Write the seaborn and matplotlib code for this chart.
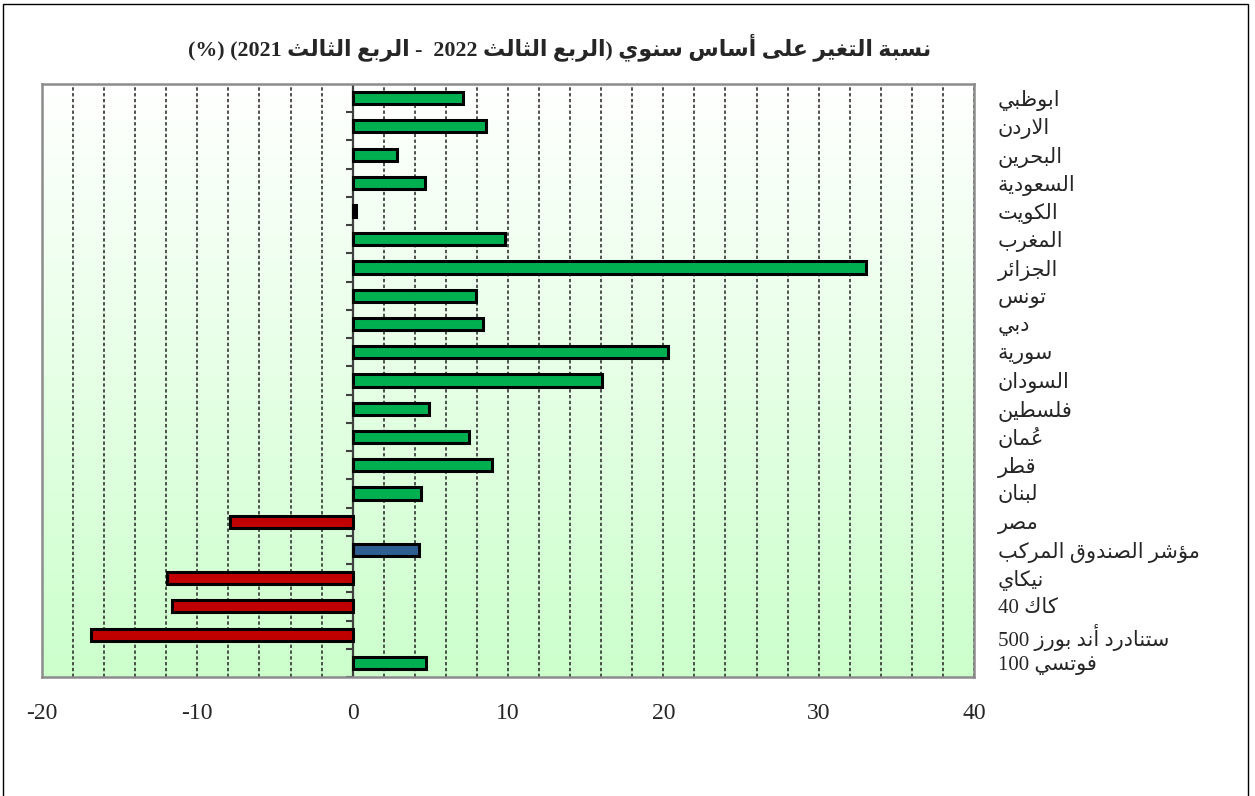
import numpy as np
import pandas as pd
import matplotlib
matplotlib.use("Agg")
import matplotlib.pyplot as plt
import matplotlib.patches as patches
from matplotlib.ticker import MultipleLocator
import seaborn as sns


# DATA
markets = ["ابوظبي", "الاردن", "البحرين", "السعودية", "الكويت", "المغرب",
           "الجزائر", "تونس", "دبي", "سورية", "السودان", "فلسطين", "عُمان",
           "قطر", "لبنان", "مصر", "مؤشر الصندوق المركب", "نيكاي", "كاك 40",
           "ستنادرد أند بورز 500", "فوتسي 100"]
change_pct = [7.1, 8.6, 2.85, 4.65, 0.2, 9.8, 33.05, 7.95, 8.4, 20.3, 16.05,
              4.9, 7.5, 8.95, 4.4, -7.9, 4.3, -11.95, -11.6, -16.85, 4.7]
composite = "مؤشر الصندوق المركب"
title = "نسبة التغير على أساس سنوي (الربع الثالث 2022  - الربع الثالث 2021) (%)"
x_ticks = [-20, -10, 0, 10, 20, 30, 40]


# matplotlib has no Arabic shaping / bidi, so do a small one by hand:
# pick the presentation form of each letter, then lay the text out right to left.
_forms = [("ء", 0xFE80, 1), ("آ", 0xFE81, 2), ("أ", 0xFE83, 2), ("ؤ", 0xFE85, 2),
          ("إ", 0xFE87, 2), ("ئ", 0xFE89, 4), ("ا", 0xFE8D, 2), ("ب", 0xFE8F, 4),
          ("ة", 0xFE93, 2), ("ت", 0xFE95, 4), ("ث", 0xFE99, 4), ("ج", 0xFE9D, 4),
          ("ح", 0xFEA1, 4), ("خ", 0xFEA5, 4), ("د", 0xFEA9, 2), ("ذ", 0xFEAB, 2),
          ("ر", 0xFEAD, 2), ("ز", 0xFEAF, 2), ("س", 0xFEB1, 4), ("ش", 0xFEB5, 4),
          ("ص", 0xFEB9, 4), ("ض", 0xFEBD, 4), ("ط", 0xFEC1, 4), ("ظ", 0xFEC5, 4),
          ("ع", 0xFEC9, 4), ("غ", 0xFECD, 4), ("ف", 0xFED1, 4), ("ق", 0xFED5, 4),
          ("ك", 0xFED9, 4), ("ل", 0xFEDD, 4), ("م", 0xFEE1, 4), ("ن", 0xFEE5, 4),
          ("ه", 0xFEE9, 4), ("و", 0xFEED, 2), ("ى", 0xFEEF, 2), ("ي", 0xFEF1, 4)]
FORMS = {c: (start, n) for c, start, n in _forms}
LAM_ALEF = {"آ": 0xFEF5, "أ": 0xFEF7, "إ": 0xFEF9, "ا": 0xFEFB}


def n_forms(c):
    if c.startswith("LA"):
        return 2
    return FORMS.get(c, (0, 0))[1]


def shape(s):
    clusters = []
    for c in s:
        if "\u064B" <= c <= "\u0652" and clusters:
            clusters[-1][1] += c
        else:
            clusters.append([c, ""])
    merged = []
    i = 0
    while i < len(clusters):
        c, m = clusters[i]
        if c == "ل" and i + 1 < len(clusters) and clusters[i + 1][0] in LAM_ALEF:
            merged.append(["LA" + clusters[i + 1][0], m + clusters[i + 1][1]])
            i += 2
        else:
            merged.append([c, m])
            i += 1
    out = []
    for k, (c, m) in enumerate(merged):
        prev = merged[k - 1][0] if k > 0 else None
        nxt = merged[k + 1][0] if k + 1 < len(merged) else None
        jp = prev is not None and n_forms(prev) == 4 and n_forms(c) >= 2
        jn = nxt is not None and n_forms(c) == 4 and n_forms(nxt) >= 2
        if c.startswith("LA"):
            g = chr(LAM_ALEF[c[2:]] + (1 if jp else 0))
        elif c in FORMS:
            start, n = FORMS[c]
            form = 3 if (jp and jn) else 2 if jn else 1 if jp else 0
            if form >= n:
                form = 1 if jp else 0
            g = chr(start + form)
        else:
            g = c
        # mark first so it is drawn over the letter that follows it on screen
        out.append(m + g)
    return out


def ar(s):
    segs = []
    for g in shape(s):
        if g.isdigit() and segs and segs[-1].isdigit():
            segs[-1] += g
        else:
            segs.append(g)
    mirror = {"(": ")", ")": "("}
    return "".join(mirror.get(g, g) for g in reversed(segs))


df = pd.DataFrame({"market": markets, "change": change_pct})
colors = ["#2E5F91" if m == composite else ("#C00000" if v < 0 else "#00B050")
          for m, v in zip(markets, change_pct)]

sns.set_style("white")
plt.rcParams["font.family"] = ["Liberation Serif", "DejaVu Sans"]

fig = plt.figure(figsize=(12.55, 7.96), dpi=100)
ax = fig.add_axes([42 / 1255, 1 - 677 / 796, 932 / 1255, 593 / 796])

# white -> light green background
grad = np.linspace(1, 0, 256).reshape(-1, 1)
cmap = matplotlib.colors.LinearSegmentedColormap.from_list("bg", ["#CCFFCC", "#FFFFFF"])
ax.imshow(grad, extent=(0, 1, 0, 1), transform=ax.transAxes, aspect="auto",
          cmap=cmap, zorder=0)

sns.barplot(data=df, x="change", y="market", hue="market", palette=colors,
            legend=False, orient="h", width=0.43, edgecolor="black",
            linewidth=2.2, saturation=1, ax=ax, zorder=3)

ax.set_xlim(-20, 40)
ax.set_ylim(len(markets) - 0.5, -0.5)

# dashed vertical grid every 2 units
ax.xaxis.set_major_locator(matplotlib.ticker.FixedLocator(x_ticks))
ax.xaxis.set_minor_locator(MultipleLocator(2))
ax.grid(True, axis="x", which="both", color="#222222", linestyle=(0, (2.2, 1.6)),
        linewidth=1.1, zorder=1)

# zero axis with small ticks at category boundaries
ax.axvline(0, color="#404040", lw=1.6, zorder=2)
ax.hlines(np.arange(len(markets) + 1) - 0.5, -0.45, 0, color="#404040", lw=1.5, zorder=2)

ax.set_xticks(x_ticks)
ax.set_xticklabels([str(t) for t in x_ticks], fontsize=17, family="Liberation Serif")
ax.tick_params(axis="x", which="both", length=0, pad=19)

ax.yaxis.tick_right()
ax.set_yticks(range(len(markets)))
ax.set_yticklabels([ar(m) for m in markets], fontsize=15, ha="left")
ax.tick_params(axis="y", length=0, pad=17)
ax.set_xlabel("")
ax.set_ylabel("")

for sp in ax.spines.values():
    sp.set_color("#8C8C8C")
    sp.set_linewidth(1.8)

fig.text(560 / 1255, 1 - 47 / 796, ar(title), ha="center", va="center",
         fontsize=15.8, fontweight="bold")

fig.patches.append(patches.Rectangle((3 / 1255, -0.01), 1245 / 1255, 1.005,
                                     transform=fig.transFigure, fill=False,
                                     edgecolor="black", lw=1))

fig.savefig("out.png", dpi=100)
